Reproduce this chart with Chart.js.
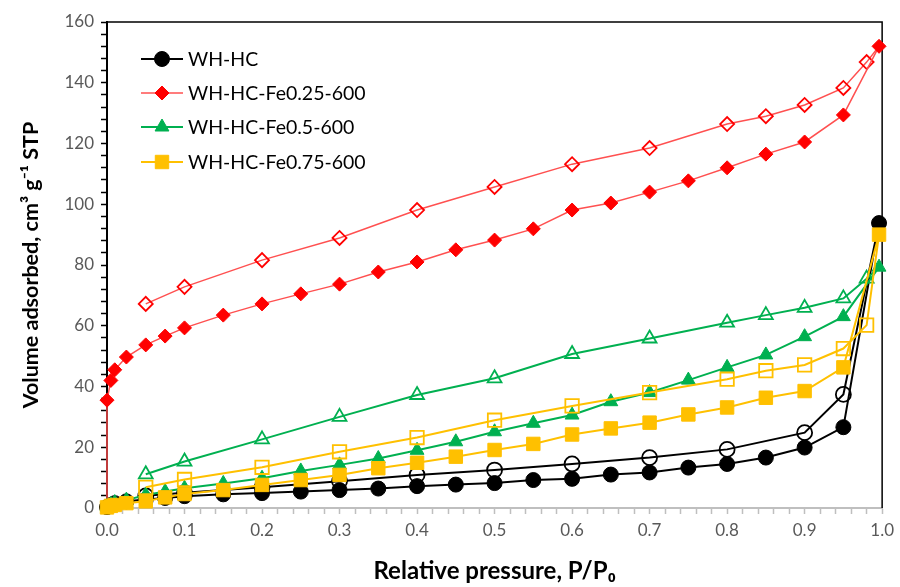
<!DOCTYPE html>
<html>
<head>
<meta charset="utf-8">
<script src="https://cdn.jsdelivr.net/npm/chart.js@4/dist/chart.umd.min.js"></script>
<style>
  html, body { margin: 0; padding: 0; background: #ffffff; }
  #wrap { width: 900px; height: 587px; position: relative; }
</style>
</head>
<body>
<div id="wrap"><canvas id="c" width="900" height="587"></canvas></div>
<script>
// ---------- data ----------
const seriesNames = ['WH-HC', 'WH-HC-Fe0.25-600', 'WH-HC-Fe0.5-600', 'WH-HC-Fe0.75-600'];

const pAds = [0, 0.005, 0.01, 0.025, 0.05, 0.075, 0.1, 0.15, 0.2, 0.25, 0.3, 0.35, 0.4, 0.45, 0.5, 0.55, 0.6, 0.65, 0.7, 0.75, 0.8, 0.85, 0.9, 0.95, 0.996];
const pAdsRed = [0, 0, 0.005, 0.01, 0.025, 0.05, 0.075, 0.1, 0.15, 0.2, 0.25, 0.3, 0.35, 0.4, 0.45, 0.5, 0.55, 0.6, 0.65, 0.7, 0.75, 0.8, 0.85, 0.9, 0.95, 0.996];
const pDesBlack = [0.996, 0.95, 0.9, 0.8, 0.7, 0.6, 0.5, 0.4, 0.3, 0.2, 0.1, 0.05];
const pDes = [0.996, 0.98, 0.95, 0.9, 0.85, 0.8, 0.7, 0.6, 0.5, 0.4, 0.3, 0.2, 0.1, 0.05];

const blackAds = [0.3, 1.0, 1.6, 2.2, 2.8, 3.3, 3.9, 4.5, 4.9, 5.4, 5.9, 6.4, 7.2, 7.7, 8.2, 9.2, 9.6, 11.0, 11.7, 13.3, 14.5, 16.6, 19.9, 26.6, 93.8];
const blackDes = [93.8, 37.4, 24.8, 19.3, 16.6, 14.5, 12.5, 10.9, 8.8, 6.8, 5.0, 4.0];

const redAds = [0.3, 35.5, 42.0, 45.5, 49.7, 53.7, 56.6, 59.3, 63.5, 67.2, 70.5, 73.7, 77.7, 81.0, 85.0, 88.2, 91.9, 98.1, 100.4, 104.0, 107.7, 112.0, 116.5, 120.5, 129.4, 152.0];
const redDes = [152.0, 146.8, 138.3, 132.7, 129.0, 126.4, 118.5, 113.2, 105.7, 98.1, 88.9, 81.6, 72.8, 67.2];

const greenAds = [0.5, 1.2, 1.8, 2.6, 4.3, 5.4, 6.5, 8.1, 9.8, 12.2, 14.2, 16.3, 19.0, 21.8, 25.1, 27.9, 30.6, 35.0, 38.0, 42.1, 46.3, 50.4, 56.4, 63.0, 79.3];
const greenDes = [79.3, 75.5, 69.0, 65.9, 63.5, 61.0, 55.8, 50.7, 42.7, 37.2, 30.0, 22.6, 15.3, 11.1];

const yellowAds = [0.2, 0.7, 1.0, 1.6, 2.2, 3.5, 4.6, 5.9, 7.6, 9.2, 10.9, 13.1, 14.9, 16.9, 19.1, 21.1, 24.2, 26.2, 28.1, 30.8, 33.1, 36.3, 38.5, 46.3, 90.0];
const yellowDes = [90.0, 60.2, 52.5, 47.1, 45.2, 42.4, 38.0, 33.6, 28.9, 23.2, 18.5, 13.4, 9.4, 6.8];

const yMin = 0, yMax = 160, yMajor = 20, yMinor = 4;
const xMin = 0, xMax = 1, xMinor = 0.02;

// ---------- styles ----------
const FONT = 'Lato, "Liberation Sans", sans-serif';
const styles = [
  { line: '#000000', mark: '#000000', lw: 2,   shape: 'circle',   r: 7.5, order: 4 },
  { line: '#ff5050', mark: '#ff0000', lw: 1.5, shape: 'rectRot',  r: 7,   order: 3 },
  { line: '#00b050', mark: '#00b050', lw: 2,   shape: 'triangle', r: 8,   order: 2 },
  { line: '#ffc000', mark: '#ffc000', lw: 2,   shape: 'rect',     r: 9.5, order: 1 }
];

function pts(xs, ys) { return xs.map((x, i) => ({ x: x, y: ys[i] })); }

const adsSets = [pts(pAds, blackAds), pts(pAdsRed, redAds), pts(pAds, greenAds), pts(pAds, yellowAds)];
const desSets = [pts(pDesBlack, blackDes), pts(pDes, redDes), pts(pDes, greenDes), pts(pDes, yellowDes)];

const datasets = [];
styles.forEach((s, i) => {
  datasets.push({
    label: seriesNames[i] + ' des',
    data: desSets[i],
    borderColor: s.line, borderWidth: s.lw,
    pointStyle: s.shape,
    pointRadius: desSets[i].map((d, k) => k === 0 ? 0 : s.r),
    pointBorderColor: s.mark, pointBackgroundColor: 'rgba(255,255,255,0)',
    pointBorderWidth: 1.8,
    showLine: true, fill: false, tension: 0, order: s.order + 0.5, clip: false
  });
  datasets.push({
    label: seriesNames[i],
    data: adsSets[i],
    borderColor: s.line, borderWidth: s.lw,
    pointStyle: s.shape,
    pointRadius: adsSets[i].map((d, k) => (i === 1 && k === 0) ? 0 : s.r),
    pointBorderColor: s.mark, pointBackgroundColor: s.mark,
    pointBorderWidth: 1,
    showLine: true, fill: false, tension: 0, order: s.order, clip: false
  });
});

function drawMarker(ctx, shape, x, y, r, fill, stroke, bw) {
  ctx.save();
  ctx.beginPath();
  if (shape === 'circle') {
    ctx.arc(x, y, r, 0, Math.PI * 2);
  } else if (shape === 'rectRot') {
    ctx.moveTo(x - r, y); ctx.lineTo(x, y - r); ctx.lineTo(x + r, y); ctx.lineTo(x, y + r); ctx.closePath();
  } else if (shape === 'triangle') {
    ctx.moveTo(x, y - r);
    ctx.lineTo(x + Math.sin(2 * Math.PI / 3) * r, y - Math.cos(2 * Math.PI / 3) * r);
    ctx.lineTo(x + Math.sin(4 * Math.PI / 3) * r, y - Math.cos(4 * Math.PI / 3) * r);
    ctx.closePath();
  } else {
    const h = Math.SQRT1_2 * r;
    ctx.rect(x - h, y - h, 2 * h, 2 * h);
  }
  ctx.fillStyle = fill; ctx.fill();
  ctx.lineWidth = bw; ctx.strokeStyle = stroke; ctx.stroke();
  ctx.restore();
}

const framePlugin = {
  id: 'frame',
  beforeDatasetsDraw(chart) {
    const { ctx, chartArea: a } = chart;
    ctx.save();
    ctx.strokeStyle = '#000000';
    ctx.lineWidth = 1.5;
    ctx.beginPath();
    ctx.moveTo(a.left, a.top);
    ctx.lineTo(a.right, a.top);
    ctx.lineTo(a.right, a.bottom);
    ctx.stroke();
    ctx.restore();
  },
  afterDatasetsDraw(chart) {
    const { ctx } = chart;
    const x0 = 141, x1 = 183, xm = 162, tx = 188;
    const ys = [59, 93, 127, 162];
    ctx.save();
    styles.forEach((s, i) => {
      const y = ys[i];
      ctx.strokeStyle = s.line; ctx.lineWidth = s.lw;
      ctx.beginPath(); ctx.moveTo(x0, y); ctx.lineTo(x1, y); ctx.stroke();
      drawMarker(ctx, s.shape, xm, y, s.r, s.mark, s.mark, 1);
      ctx.fillStyle = '#000000';
      ctx.font = '19.5px ' + FONT;
      ctx.textAlign = 'left'; ctx.textBaseline = 'middle';
      ctx.fillText(seriesNames[i], tx, y + 1);
    });
    ctx.restore();
  }
};

new Chart(document.getElementById('c'), {
  type: 'scatter',
  data: { datasets: datasets },
  options: {
    responsive: false,
    animation: false,
    events: [],
    layout: { padding: { top: 22, right: 15, left: 0, bottom: 0 } },
    plugins: { legend: { display: false }, tooltip: { enabled: false } },
    scales: {
      x: {
        type: 'linear', min: xMin, max: xMax,
        afterFit(scale) { scale.height = 79; },
        border: { display: true, color: '#bfbfbf', width: 2 },
        grid: { display: true, drawOnChartArea: false, drawTicks: true, tickLength: 6, tickColor: '#bfbfbf', tickWidth: 1.5 },
        ticks: {
          stepSize: xMinor, autoSkip: false, maxRotation: 0, minRotation: 0, padding: 6,
          color: '#595959', font: { family: FONT, size: 17 },
          callback(v) { const t = Math.round(v * 100); return (t % 10 === 0) ? (t / 100).toFixed(1) : ''; }
        },
        title: {
          display: true, text: 'Relative pressure, P/P\u2080',
          color: '#000000', font: { family: FONT, size: 24, weight: 'bold' },
          padding: { top: 0, bottom: 1 }
        }
      },
      y: {
        type: 'linear', min: yMin, max: yMax,
        afterFit(scale) { scale.width = 107; },
        border: { display: true, color: '#000000', width: 2 },
        grid: { display: true, drawOnChartArea: false, drawTicks: true, tickLength: 6, tickColor: '#000000', tickWidth: 1.5 },
        ticks: {
          stepSize: yMinor, autoSkip: false, padding: 7,
          color: '#595959', font: { family: FONT, size: 17 },
          callback(v) { return (Math.round(v) % yMajor === 0) ? String(Math.round(v)) : ''; }
        },
        title: {
          display: true, text: 'Volume adsorbed, cm\u00b3 g\u207b\u00b9 STP',
          color: '#000000', font: { family: FONT, size: 21.5, weight: 'bold' },
          padding: { top: 18, bottom: 0 }
        }
      }
    }
  },
  plugins: [framePlugin]
});
</script>
</body>
</html>
